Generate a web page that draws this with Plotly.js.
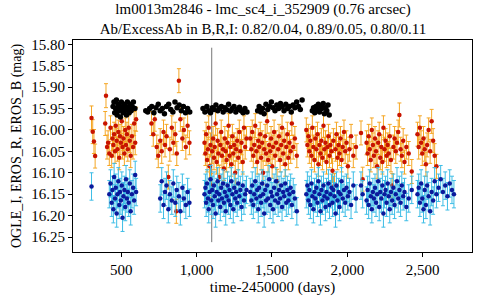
<!DOCTYPE html>
<html>
<head>
<meta charset="utf-8">
<script src="https://cdn.plot.ly/plotly-3.0.1.min.js"></script>
<style>html,body{margin:0;padding:0;background:#fff;}#chart{width:480px;height:300px;}</style>
</head>
<body>
<div id="chart"></div>
<script>
// EROS epochs (R and B taken together), days (time-2450000)
var erosT = [
  302, 310, 318, 326,
  393, 398, 405, 412, 420, 428, 436, 441, 447, 452, 458, 463, 469, 474, 480, 486, 491, 497, 503, 508, 514, 520, 526, 531, 537, 543, 549, 556, 562, 570, 578, 585, 592, 598,
  700, 712, 722, 735, 745, 758, 768, 780, 790, 800, 812, 822, 835, 845, 858, 865, 868, 882, 892, 905, 915, 928, 940, 952,
  1052, 1058, 1063, 1069, 1075, 1080, 1086, 1092, 1097, 1103, 1109, 1115, 1120, 1126, 1133, 1139, 1144, 1150, 1157, 1163, 1168, 1175, 1181, 1187, 1193, 1199, 1205, 1212, 1218, 1224, 1230, 1237, 1243, 1249, 1256, 1262, 1269, 1276, 1283, 1290, 1298, 1306, 1314, 1322, 1331,
  1356, 1363, 1369, 1376, 1382, 1389, 1396, 1402, 1409, 1415, 1422, 1428, 1435, 1441, 1448, 1455, 1461, 1468, 1474, 1481, 1488, 1494, 1501, 1507, 1514, 1521, 1527, 1534, 1541, 1547, 1554, 1561, 1567, 1574, 1581, 1588, 1595, 1602, 1609, 1616, 1624, 1632, 1641, 1652, 1665,
  1728, 1735, 1742, 1748, 1755, 1762, 1768, 1775, 1782, 1788, 1795, 1802, 1808, 1815, 1822, 1828, 1835, 1842, 1848, 1855, 1862, 1868, 1875, 1882, 1888, 1895, 1902, 1908, 1915, 1922, 1928, 1935, 1942, 1948, 1955, 1962, 1970, 1978, 1986, 1995, 2004, 2014, 2025, 2040, 2058,
  2091, 2102, 2128, 2135, 2142, 2149, 2156, 2163, 2170, 2177, 2184, 2191, 2198, 2205, 2212, 2219, 2226, 2233, 2240, 2247, 2254, 2261, 2268, 2275, 2282, 2290, 2298, 2306, 2314, 2322, 2330, 2338, 2346, 2354, 2362, 2371, 2380, 2392, 2408, 2428,
  2466, 2474, 2482, 2490, 2498, 2506, 2514, 2522, 2530, 2540, 2550, 2560, 2570, 2580, 2592, 2606, 2620, 2635, 2650, 2665, 2680, 2695, 2708
];
// EROS_R magnitudes
var erosR = [
  15.972, 16.004, 16.027, 16.061,
  15.985, 15.920, 16.040, 16.030, 16.055, 15.995, 16.060, 16.020, 16.035, 16.010, 16.050, 15.990, 16.025, 16.045, 16.005, 16.065, 16.015, 16.030, 15.980, 16.040, 16.020, 16.055, 16.000, 16.035, 16.010, 16.045, 15.995, 16.025, 16.060, 16.015, 16.040, 15.985, 16.030, 15.975,
  15.985, 16.010, 15.975, 16.040, 16.060, 16.025, 16.050, 16.005, 16.035, 16.015, 16.110, 16.045, 15.995, 16.030, 16.010, 16.190, 16.055, 15.885, 15.975, 16.020, 16.000, 16.040, 15.990, 16.030,
  16.030, 16.055, 16.010, 16.070, 16.045, 15.995, 16.085, 16.035, 16.130, 16.050, 16.020, 16.065, 16.040, 15.985, 16.075, 16.025, 16.055, 16.110, 16.035, 16.005, 16.060, 16.045, 16.090, 16.020, 16.050, 16.070, 16.030, 15.990, 16.060, 16.040, 16.080, 16.015, 16.055, 16.035, 16.100, 16.045, 16.025, 16.065, 16.005, 16.050, 16.030, 16.075, 15.995, 16.040, 16.020,
  16.020, 16.045, 16.005, 16.060, 16.035, 15.990, 16.050, 16.075, 16.025, 16.040, 16.010, 16.065, 16.030, 16.100, 16.045, 16.015, 16.055, 15.980, 16.070, 16.035, 16.050, 16.020, 16.085, 16.040, 16.005, 16.060, 16.030, 16.120, 16.045, 16.015, 16.070, 16.035, 15.995, 16.055, 16.025, 16.080, 16.040, 16.010, 16.065, 16.030, 16.050, 15.985, 16.040, 16.020, 16.060,
  16.000, 16.035, 16.015, 16.050, 16.025, 16.060, 15.995, 16.040, 16.070, 16.020, 16.045, 16.010, 16.080, 16.035, 16.055, 16.025, 16.065, 15.990, 16.045, 16.030, 16.075, 16.040, 16.015, 16.060, 16.035, 16.050, 16.095, 16.025, 16.130, 16.045, 16.010, 16.065, 16.035, 16.055, 16.020, 16.070, 16.040, 16.005, 16.050, 16.030, 16.085, 16.045, 16.015, 16.060, 16.040,
  16.007, 16.115, 16.030, 16.055, 16.015, 16.045, 16.070, 16.000, 16.035, 16.060, 16.020, 16.050, 16.085, 16.030, 16.010, 16.065, 16.040, 16.075, 15.995, 16.045, 16.025, 16.060, 16.035, 16.055, 16.015, 16.070, 16.130, 16.040, 16.020, 16.050, 16.030, 16.005, 15.965, 16.045, 16.060, 16.025, 16.075, 16.040, 16.055, 16.097,
  16.010, 16.040, 15.995, 16.030, 16.055, 16.020, 16.045, 16.080, 16.035, 16.000, 16.050, 15.980, 16.025, 16.060, 16.085, null, null, null, null, null, null, null, null
];
// EROS_B magnitudes
var erosB = [
  16.132, null, null, null,
  null, null, null, null, 16.150, 16.125, 16.170, 16.140, 16.185, 16.110, 16.160, 16.135, 16.195, 16.150, 16.120, 16.175, 16.145, 16.165, 16.130, 16.205, 16.155, 16.140, 16.180, 16.115, 16.160, 16.145, 16.170, 16.125, 16.190, 16.150, 16.135, 16.165, 16.105, 16.145,
  null, null, null, null, null, 16.160, 16.120, 16.175, 16.145, 16.130, 16.185, 16.150, 16.165, 16.125, 16.170, null, 16.140, 16.155, 16.190, 16.135, 16.160, 16.175, 16.145, 16.170,
  16.150, 16.135, 16.170, 16.125, 16.160, 16.185, 16.145, 16.115, 16.165, 16.140, 16.175, 16.130, 16.155, 16.195, 16.145, 16.120, 16.165, 16.150, 16.180, 16.135, 16.160, 16.125, 16.170, 16.145, 16.190, 16.155, 16.130, 16.165, 16.140, 16.175, 16.120, 16.150, 16.185, 16.135, 16.160, 16.145, 16.170, 16.125, 16.155, 16.140, 16.180, 16.130, 16.165, 16.150, 16.140,
  16.145, 16.165, 16.130, 16.175, 16.150, 16.120, 16.160, 16.140, 16.185, 16.135, 16.155, 16.170, 16.125, 16.150, 16.195, 16.140, 16.165, 16.130, 16.160, 16.115, 16.175, 16.145, 16.155, 16.185, 16.135, 16.165, 16.120, 16.150, 16.170, 16.140, 16.160, 16.130, 16.180, 16.145, 16.155, 16.125, 16.170, 16.140, 16.165, 16.150, 16.135, 16.175, 16.145, 16.160, 16.190,
  16.150, 16.130, 16.165, 16.140, 16.175, 16.125, 16.155, 16.185, 16.145, 16.160, 16.135, 16.170, 16.120, 16.150, 16.190, 16.140, 16.165, 16.130, 16.155, 16.180, 16.145, 16.160, 16.125, 16.175, 16.150, 16.135, 16.170, 16.140, 16.155, 16.195, 16.130, 16.165, 16.145, 16.180, 16.150, 16.120, 16.160, 16.140, 16.170, 16.135, 16.155, 16.145, 16.175, 16.130, 16.160,
  16.130, 16.150, 16.165, 16.140, 16.175, 16.125, 16.155, 16.185, 16.145, 16.160, 16.135, 16.170, 16.150, 16.120, 16.180, 16.145, 16.160, 16.130, 16.195, 16.150, 16.140, 16.170, 16.125, 16.155, 16.185, 16.145, 16.165, 16.135, 16.175, 16.150, 16.120, 16.160, 16.140, 16.170, 16.130, 16.155, 16.145, 16.180, 16.160, 16.140,
  16.150, 16.135, 16.170, 16.125, 16.160, 16.185, 16.140, 16.175, 16.130, 16.155, 16.190, 16.145, 16.165, 16.120, 16.150, 16.135, 16.115, 16.145, 16.130, 16.155, 16.125, 16.140, 16.150
];
// OGLE_I epochs and magnitudes
var ogleT = [
  445, 451, 456, 462, 467, 472, 478, 483, 489, 494, 500, 505, 511, 517, 522, 528, 534, 540, 546, 552, 558, 565, 572, 580, 590,
  662, 675, 688, 702, 716, 730, 745, 758, 772, 786, 800, 814, 828, 842, 856, 870, 884, 898, 912, 926, 940, 954,
  1042, 1055, 1068, 1080, 1092, 1104, 1116, 1128, 1140, 1152, 1164, 1176, 1188, 1200, 1212, 1224, 1236, 1248, 1260, 1272, 1284, 1296, 1308, 1320, 1334,
  1405, 1415, 1426, 1437, 1448, 1460, 1472, 1484, 1496, 1508, 1520, 1532, 1544, 1556, 1568, 1580, 1592, 1604, 1616, 1628, 1640, 1652, 1664, 1676, 1688, 1700,
  1768, 1776, 1784, 1792, 1800, 1808, 1816, 1824, 1832, 1840, 1848, 1856, 1864, 1872, 1880
];
var ogleI = [
  15.945, 15.935, 15.960, 15.950, 15.930, 15.965, 15.940, 15.955, 15.945, 15.970, 15.935, 15.950, 15.960, 15.940, 15.955, 15.945, 15.965, 15.935, 15.950, 15.960, 15.940, 15.955, 15.945, 15.935, 15.950,
  15.955, 15.958, 15.950, 15.945, 15.960, 15.948, 15.940, 15.955, 15.950, 15.962, 15.945, 15.940, 15.952, 15.958, 15.935, 15.948, 15.942, 15.955, 15.945, 15.960, 15.950, 15.958,
  15.950, 15.958, 15.945, 15.955, 15.960, 15.948, 15.952, 15.942, 15.955, 15.950, 15.945, 15.958, 15.948, 15.953, 15.940, 15.956, 15.950, 15.945, 15.958, 15.952, 15.947, 15.955, 15.960, 15.950, 15.958,
  15.955, 15.945, 15.958, 15.950, 15.962, 15.940, 15.952, 15.945, 15.935, 15.948, 15.955, 15.942, 15.950, 15.938, 15.946, 15.955, 15.940, 15.950, 15.945, 15.958, 15.942, 15.948, 15.935, 15.945, 15.952, 15.930,
  15.955, 15.948, 15.960, 15.945, 15.952, 15.940, 15.958, 15.945, 15.950, 15.938, 15.962, 15.948, 15.955, 15.942, 15.965
];
var errR = 0.028, errB = 0.032;
var markerDay = 1100;
var xTicks = [500, 1000, 1500, 2000, 2500];
var yTicks = [15.80, 15.85, 15.90, 15.95, 16.00, 16.05, 16.10, 16.15, 16.20, 16.25];

var serif = '"Liberation Serif", "Times New Roman", Times, serif';
var traces = [
  {x: erosT, y: erosR, type: 'scatter', mode: 'markers', name: 'EROS_R',
   marker: {color: '#c81400', size: 4.5},
   error_y: {type: 'constant', value: errR, color: '#f5a623', thickness: 1, width: 2}},
  {x: erosT, y: erosB, type: 'scatter', mode: 'markers', name: 'EROS_B',
   marker: {color: '#0a1a9c', size: 4.5},
   error_y: {type: 'constant', value: errB, color: '#3dbde6', thickness: 1, width: 2}},
  {x: ogleT, y: ogleI, type: 'scatter', mode: 'markers', name: 'OGLE_I',
   marker: {color: '#000000', size: 5.5}}
];
var layout = {
  width: 480, height: 300,
  margin: {l: 73, r: 8, t: 40, b: 48},
  paper_bgcolor: '#fff', plot_bgcolor: '#fff',
  showlegend: false,
  font: {family: serif, size: 15, color: '#000'},
  title: {text: 'lm0013m2846 - lmc_sc4_i_352909 (0.76 arcsec)<br>Ab/ExcessAb in B,R,I: 0.82/0.04, 0.89/0.05, 0.80/0.11',
          font: {family: serif, size: 15, color: '#000'},
          xref: 'container', x: 0.548, xanchor: 'center', yref: 'container', y: 0.952, yanchor: 'middle'},
  xaxis: {range: [179, 2828], tickvals: xTicks, tickformat: ',d', showgrid: false, zeroline: false,
          showline: true, mirror: true, linecolor: '#000', linewidth: 1, ticks: 'outside', ticklen: 4, tickcolor: '#000',
          tickfont: {family: serif, size: 15},
          title: {text: 'time-2450000 (days)', font: {family: serif, size: 15}, standoff: 4}},
  yaxis: {range: [16.285, 15.79], tickvals: yTicks, tickformat: '.2f', showgrid: false, zeroline: false,
          showline: true, mirror: true, linecolor: '#000', linewidth: 1, ticks: 'outside', ticklen: 4, tickcolor: '#000',
          tickfont: {family: serif, size: 15},
          title: {text: 'OGLE_I, EROS_R, EROS_B (mag)', font: {family: serif, size: 14}, standoff: 6}},
  shapes: [{type: 'line', xref: 'x', yref: 'y', x0: markerDay, x1: markerDay, y0: 15.808, y1: 16.262,
            line: {color: '#777', width: 1}, layer: 'below'}]
};
Plotly.newPlot('chart', traces, layout, {staticPlot: true, displayModeBar: false});
</script>
</body>
</html>
